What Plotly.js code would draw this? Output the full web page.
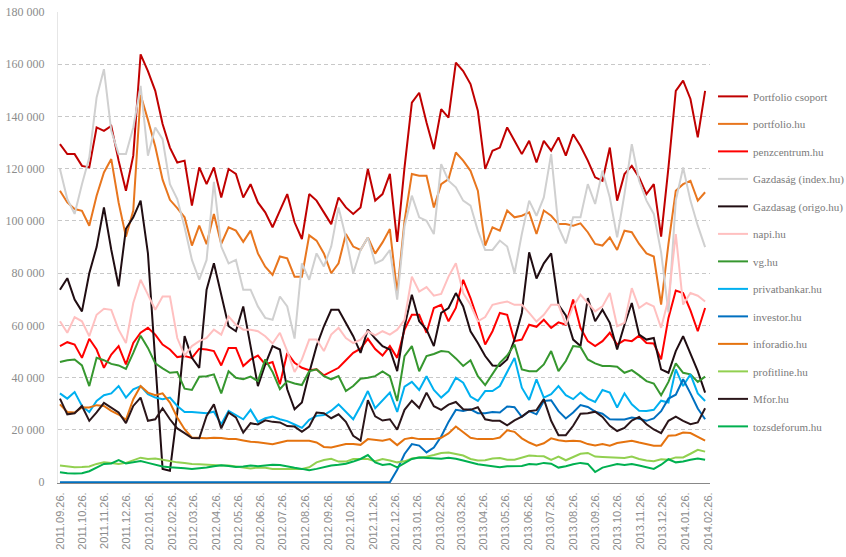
<!DOCTYPE html>
<html>
<head>
<meta charset="utf-8">
<script src="https://cdn.plot.ly/plotly-3.0.1.min.js"></script>
<style>html,body{margin:0;padding:0;background:#fff;}#chart{width:846px;height:557px;}</style>
</head>
<body>
<div id="chart"></div>
<script>
// x-axis tick labels (monthly)
const tickLabels = ['2011.09.26.','2011.10.26.','2011.11.26.','2011.12.26.','2012.01.26.','2012.02.26.','2012.03.26.','2012.04.26.','2012.05.26.','2012.06.26.','2012.07.26.','2012.08.26.','2012.09.26.','2012.10.26.','2012.11.26.','2012.12.26.','2013.01.26.','2013.02.26.','2013.03.26.','2013.04.26.','2013.05.26.','2013.06.26.','2013.07.26.','2013.08.26.','2013.09.26.','2013.10.26.','2013.11.26.','2013.12.26.','2014.01.26.','2014.02.26.'];

// sample dates: every 10 days from 2011.09.26
const startDate = '2011-09-26';
const stepDays = 10;

// series values (thousand visits), one value per sample date
const portfolioCsoport = [129.4,125.6,125.6,121.1,120.5,135.8,134.5,136.4,123.1,111.6,125,163.8,157.4,149.8,137.1,128.1,122.4,123.1,105.9,120.5,114.1,120.5,109,119.9,118,109,114.1,107.1,103.3,97.6,104,110.3,99.5,93.1,110.3,107.8,103.3,98.8,109,105.2,102.7,105.2,119.9,107.8,110.3,118,92,120.5,145.3,149.1,137.7,127.5,142.8,139.6,160.6,157.4,152.4,142.2,119.9,126.9,128.1,135.8,130.7,125.6,130.7,122.4,130.7,126.9,132,125,133.2,128.7,123.1,116.7,115.4,128.1,107.8,118,121.1,116.7,110.3,114.1,94,120.5,149.8,153.7,146.7,132,149.8];
const portfolioHu = [111.6,107.1,104.6,103.9,98.2,109.7,118.6,123.7,107.1,94,104,148.3,138.7,128.5,115.8,108.1,104.9,101.4,90.6,98.2,91.1,102.7,91.2,97.6,96.3,92,96.3,87.6,82.5,79.4,86.4,85.7,78.7,78.7,94.5,92.5,87.6,80,83.8,95,90.2,88.9,93.7,87.5,91.8,96.9,72.4,100,118,117.3,117.3,105.2,114.1,116,126.2,123.1,119.2,111.6,90.6,97.6,96.3,104,101.4,102,103.3,95,104,102,98.8,98.8,98.2,99.1,95.7,91.2,90.6,93.7,88.9,96.3,95.7,91.2,87.6,86.4,68,91.2,111.6,114.1,115.4,107.8,111];
const penzcentrum = [52.1,53.6,52.7,47.6,54.9,50.8,43.8,48.9,52.1,45.1,53.3,57.2,59.1,56.5,52.7,50.8,47.9,48.3,47.6,51.1,50.8,50.2,44.7,51.4,51.4,44.5,47,48.5,45.1,46,37.5,49.5,45.7,43.8,42.9,43.2,40.9,42.3,43.8,46.7,49.5,51.1,54.9,51,48.5,52.1,47.6,58.4,64.1,64.1,57.2,66.7,67.9,61.6,66.7,77.5,70.5,62.2,52.7,57.8,64.8,64.1,54,54.6,60.3,59.5,62.2,59.1,61.2,60.3,69.9,59.1,54,52.1,54,57.2,52.7,54.4,54,56.1,53.3,53.1,47,62.9,73.4,72.4,65.8,57.8,66.7];
const indexHu = [119.9,108.4,102.7,114.1,124.3,147.3,158.1,134.5,125.6,125.6,135.8,151.7,125,135.8,131.3,114.1,108.4,97.6,85.1,77.5,85.1,115,90.2,83.8,85.1,73.7,73.7,67.3,62.9,62.2,71.1,67.3,55,83.8,77.5,87.6,82.6,90.2,105.2,93.7,80,88.9,93.7,83.8,85.1,88.9,69.9,98,109.7,101.4,100.1,95,121.8,115.4,112.9,107.8,105.9,96.3,88.9,88.9,92.5,90.2,80,95,107.8,102,109,125.6,97.6,91.4,101.4,101.4,114.1,106.5,119.2,109,93.7,110.3,129.4,115.4,107.8,102.7,88,65,107.8,120.5,107.8,98.2,90];
const origoHu = [73.7,78.1,69.9,65.4,80,90,105.2,89,75,97,101.4,107.8,87.6,48.3,5.1,4.4,26.7,55.9,47.6,43.8,73.7,83.8,71.1,59.7,57.8,67.3,52.1,36.8,45.1,52.1,50.8,35.6,27.9,30.5,41.9,52.1,59.7,66,66,61,55.9,49.5,58.4,55,52.1,50.8,42.5,59.7,71.8,61.6,58.4,52.1,64.8,66.7,72.4,67.3,57.8,53.3,48.3,44.7,44.5,47,54.6,64.8,88,78,83.8,87.6,67.9,63.8,54.6,52.1,70.5,61.6,66,61,50.8,60.3,68.6,56.5,54.6,55.2,43.2,41.9,50.2,55.9,48.9,42.5,34.3];
const napiHu = [61.6,57.2,63.2,61.6,55.9,64.1,66.4,66,58.4,53.3,68.6,77.5,71.8,66,71.1,71.1,55.2,48.5,52.1,54,55.2,58.4,56.5,63.5,60.3,58.4,58.4,57.8,55.9,53.1,57.2,50.2,42.2,47,54.6,54.6,50.2,56.5,59.1,55.2,53.3,54.6,57.8,56.2,57.8,56.5,58.4,62.2,78.7,73,74.7,71.4,72.1,78.7,83.8,72.4,67.9,61.6,63.2,67.9,68.6,69.2,67.9,67.9,64.8,61.5,64.1,67.9,67.9,60.3,67.3,71.8,68.6,65.4,67.3,72.4,59.7,61,74.3,66.7,68.6,67.3,59.1,70,95,68,72.4,71.4,69.2];
const vgHu = [46,46.7,47,44.7,36.8,47.6,46.7,45.3,44.7,43.4,49.5,56.1,51.4,45.5,43.6,41.9,42.2,35.8,35.3,40.4,40.6,41.3,34,42.5,40,39.4,40.4,38.7,47,42.2,35.6,38.7,37.8,37.2,42.5,43.2,40.6,39.4,40.6,34.9,36.8,39.6,40,40.6,42.4,40.6,31.1,48.3,52.1,42.5,48.3,49.1,50.2,49.9,47.4,44.5,46.7,40.6,37.2,41.3,45.7,48.5,52.7,43.2,42.5,42.5,45.1,50.2,42.5,46.4,52.1,51.8,47,45.5,44.5,44.5,44.2,41.9,42.9,40.9,38.7,37.8,33.3,38.4,45.5,41.9,41.3,38.4,40.4];
const privatbankar = [34,32,34.5,29.2,26.9,31.1,33.3,34,36.8,32.4,35.6,36.8,33.7,32.4,31.8,32.4,29.2,26.9,26.9,26.7,26.4,27,22.2,27.3,25.7,24.1,27.7,23.1,24.5,25.1,24.1,23.4,22.1,20.8,23.9,25.4,25.7,27.4,29.8,26.9,24.1,29.2,34.9,28.3,31.1,34.3,26.9,36.6,38.4,35.3,40.6,35.3,32.4,34.9,40,38.1,32.8,31.1,34.9,34.9,36.8,42.2,47.6,36.2,31.5,39.4,32.4,33.7,36.8,33.3,31.8,34.3,32,30.7,35.3,34.3,28.6,34,29.8,27.4,27.3,27.7,31.2,30.5,43.2,36.8,41.3,34,31.1];
const investorHu = [0,0,0,0,0,0,0,0,0,0,0,0,0,0,0,0,0,0,0,0,0,0,0,0,0,0,0,0,0,0,0,0,0,0,0,0,0,0,0,0,0,0,0,0,0,0,4.8,10.8,14.6,14,11.4,13.3,17.5,23.1,27.7,27.3,27.9,26.4,26.4,26.9,26.7,29,28.7,25,27.2,26,31.1,31.4,27.2,24.4,26.7,29.5,28.8,27,26.2,24.1,24,24,24.8,24.3,23.5,24.4,27.2,32,33.5,39.4,34,28.2,24.1];
const inforadio = [29.8,26.9,26.7,28.6,28.6,29.5,29.2,27.3,25.9,23.9,31.8,36.8,34.3,33.3,34,30.5,24.8,20.3,17.1,17,16.8,17,16.9,16.5,16.5,16,15.5,15.3,14.8,14.5,15.2,15.9,15.9,15.9,15.9,15.2,13.5,13.3,14,14.6,14.6,14.3,16.5,16.2,15.9,16.5,14.2,16.5,17,16.5,16.5,16.5,17,18.7,21.3,19,17,16.5,16.5,16.5,17.1,19.9,19.3,16.8,15.2,14,14.9,16.8,16.1,15.7,15.9,15.7,14.6,14.1,14.6,14,15,15.4,15.9,15.2,14.6,14,14,17.8,18,19,18.8,17.3,15.9];
const profitline = [6.4,6.1,5.7,5.8,6,7,7.6,7.4,7,7.4,8.3,9.4,8.9,9.1,8.6,8,7.6,7.4,7,6.9,6.7,6.7,6.4,6.4,6.1,5.8,5.3,5.6,5.5,5.1,5.1,5.1,5.1,5.1,5.7,7.6,8.5,9,7.9,7.9,8.9,9,8.9,8,8.9,8.3,7.6,8,9.1,9.5,9.8,10.4,11.2,11.4,10.8,10.2,8.9,8.3,8.4,9.1,9.3,8.6,8.6,9.4,10.2,10,9.9,8.5,9.8,8.4,9.5,10.9,11.2,9.8,9.7,9.5,9.4,9.3,9.8,8.9,8.3,8,8.8,8.6,9.5,9.5,10.9,12.4,11.7];
const mforHu = [32,26,26.4,29.2,23.5,26.7,30.4,28.6,26.7,22.6,29.2,32.4,23.5,24.1,28.3,24.1,20.6,18.8,16.9,16.8,25.4,29.8,20.6,26.7,24.8,19,22.6,22.1,23.7,23.1,22.9,21.5,21.3,19.3,21.3,26.7,26.4,24.5,26,23.1,17.8,15.9,31.4,25.2,23.6,24.1,20.1,27.7,31.2,28.4,34.3,29.1,27.7,29.7,30.7,27.9,27.7,28.7,24.1,23.5,23.5,21.8,23.7,25.1,27.2,27.6,31.8,23.5,18,18,21.6,26.2,26.4,27,25,21.6,19.6,20.8,23.6,25,22.2,20.2,18.8,23.5,25.1,23.5,22.2,22.9,28.3];
const tozsdeforum = [3.8,3.4,3.3,3.4,4.2,5.7,7,7.2,8.5,7.2,7.6,8.1,7.4,6.6,6,5.7,5.6,5.3,5.1,5.3,5.6,6.1,6.5,6.2,5.8,6,6.4,6.1,6.4,6.7,6.6,6,5.5,5.1,4.6,5.1,5.7,6.4,6.7,7.1,7.9,8.9,10.4,7.6,6.6,7,5.7,7.2,8.9,9.5,9.3,9,9,9.4,9,8.3,7.6,6.9,6.5,6.1,5.7,6.1,6.1,6.2,7,6.8,7.4,7.1,5.6,6.1,6.9,7.4,7,3.9,5.6,6.4,7,6.6,7,6.4,5.7,5.1,6.7,8.8,7.6,7.9,8.6,9.1,8.6];

const seriesNames = ['Portfolio csoport','portfolio.hu','penzcentrum.hu','Gazdaság (index.hu)','Gazdasag (origo.hu)','napi.hu','vg.hu','privatbankar.hu','investor.hu','inforadio.hu','profitline.hu','Mfor.hu','tozsdeforum.hu'];
const seriesData = [portfolioCsoport,portfolioHu,penzcentrum,indexHu,origoHu,napiHu,vgHu,privatbankar,investorHu,inforadio,profitline,mforHu,tozsdeforum];
const seriesColors = ['#C00000','#E8761E','#FF0000','#D0D0D0','#200D12','#FFC0C0','#36972F','#00B0F0','#0070C0','#E5730F','#92D050','#2B161A','#00B050'];

function sampleDates(n){
  const t0 = Date.parse(startDate + 'T00:00:00Z');
  const out = [];
  for(let i=0;i<n;i++){ out.push(new Date(t0 + i*stepDays*86400000).toISOString().slice(0,10)); }
  return out;
}
const dates = sampleDates(portfolioCsoport.length);
const tickDates = tickLabels.map(s => s.slice(0,10).replace(/\./g,'-'));

const traces = seriesData.map((arr,i) => ({
  type:'scatter', mode:'lines', name: seriesNames[i], legendgroup:'g'+i,
  x: dates, y: arr.map(v => v*1000),
  line:{color: seriesColors[i], width:2}
}));

const layout = {
  width:846, height:557,
  margin:{l:58, r:136, t:12, b:74},
  paper_bgcolor:'#ffffff', plot_bgcolor:'#ffffff',
  separators:', ',
  showlegend:true,
  legend:{xref:'container', yref:'container', x:0.8428, y:0.853, xanchor:'left', yanchor:'top', tracegroupgap:8.5, traceorder:'grouped',
          maxheight:500,
          font:{family:'Liberation Serif, serif', size:11, color:'#7a7a7a'}, bgcolor:'rgba(0,0,0,0)'},
  xaxis:{type:'date', range:['2011-09-23 08:00','2014-02-28 16:00'], tickmode:'array', tickvals:tickDates, ticktext:tickLabels,
         tickangle:-90, tickfont:{family:'Liberation Sans, Arial, sans-serif', size:11, color:'#8c8c8c'},
         showgrid:false, showline:true, linecolor:'#888888', linewidth:1, ticks:'outside', ticklen:4, tickcolor:'rgba(0,0,0,0)', zeroline:false},
  yaxis:{range:[-300,180000], tick0:0, dtick:20000, tickformat:',d', showgrid:true, gridcolor:'#c8c8c8', gridwidth:1, griddash:'4px,3px',
         zeroline:false, showline:true, linecolor:'#e6e6e6', ticks:'outside', ticklen:10, tickcolor:'rgba(0,0,0,0)',
         tickfont:{family:'Liberation Serif, serif', size:12, color:'#8c8c8c'}}
};
Plotly.newPlot('chart', traces, layout, {staticPlot:true, displayModeBar:false});
</script>
</body>
</html>
